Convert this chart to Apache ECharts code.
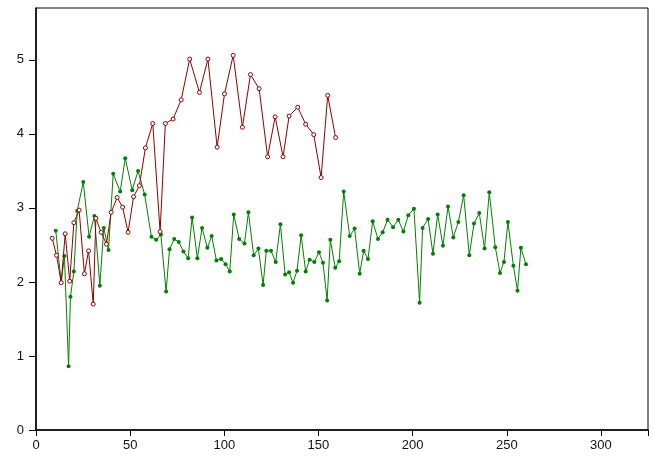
<!DOCTYPE html>
<html>
<head>
<meta charset="utf-8">
<script src="https://cdn.jsdelivr.net/npm/echarts@6/dist/echarts.min.js"></script>
<style>
  html, body { margin: 0; padding: 0; background: #fff; }
  #chart { width: 653px; height: 463px; }
</style>
</head>
<body>
<div id="chart"></div>
<script>
// red series (hollow markers)
const redX = [8.6, 10.9, 13.4, 15.5, 17.9, 20.1, 22.9, 25.7, 27.9, 30.4, 31.8, 34.6, 37.4, 39.9, 43.1, 46.0,
  48.9, 51.8, 54.9, 58.1, 62.0, 65.9, 68.7, 72.8, 77.1, 81.6, 86.8, 91.3, 96.2, 100.1, 104.7, 109.6,
  113.9, 118.5, 123.0, 127.0, 131.2, 134.4, 139.0, 143.2, 147.5, 151.4, 154.9, 159.1];
const redY = [2.59, 2.36, 1.99, 2.65, 2.01, 2.80, 2.97, 2.11, 2.42, 1.70, 2.86, 2.67, 2.51, 2.94, 3.14, 3.01,
  2.67, 3.15, 3.30, 3.81, 4.14, 2.68, 4.14, 4.20, 4.46, 5.01, 4.56, 5.01, 3.82, 4.54, 5.06, 4.09,
  4.80, 4.61, 3.69, 4.23, 3.69, 4.24, 4.36, 4.13, 3.99, 3.41, 4.52, 3.95];

// green series (filled markers)
const greenX = [10.5, 13.4, 15.1, 17.3, 18.3, 20.1, 21.9, 25.1, 28.2, 31.0, 33.9, 36.0, 38.5, 41.0, 44.7,
  47.4, 51.1, 54.2, 57.7, 61.3, 63.8, 66.3, 69.1, 70.9, 73.4, 75.8, 78.3, 80.8, 82.9, 85.7, 88.2,
  91.0, 93.3, 95.8, 98.3, 100.7, 102.9, 105.0, 107.9, 110.7, 112.8, 115.6, 118.1, 120.6, 122.3,
  124.8, 127.3, 129.8, 132.3, 134.4, 136.5, 138.6, 140.8, 143.2, 145.3, 147.8, 150.3, 152.4, 154.6,
  156.3, 158.9, 161.0, 163.4, 166.6, 169.2, 171.9, 174.0, 176.3, 178.8, 181.6, 184.1, 186.7, 189.6,
  192.4, 195.1, 197.7, 200.7, 203.7, 205.3, 208.2, 210.8, 213.3, 216.1, 218.8, 221.6, 224.3, 227.1,
  230.1, 232.6, 235.4, 238.2, 240.7, 243.9, 246.4, 248.5, 250.6, 253.5, 255.7, 257.5, 260.2];
const greenY = [2.69, 1.99, 2.35, 0.86, 1.80, 2.14, 2.96, 3.35, 2.61, 2.89, 1.95, 2.73, 2.43, 3.46, 3.22,
  3.67, 3.24, 3.50, 3.18, 2.61, 2.57, 2.64, 1.87, 2.44, 2.58, 2.54, 2.41, 2.32, 2.87, 2.32, 2.73,
  2.46, 2.62, 2.29, 2.31, 2.24, 2.14, 2.91, 2.58, 2.52, 2.94, 2.36, 2.45, 1.96, 2.42,
  2.42, 2.27, 2.78, 2.10, 2.13, 1.99, 2.15, 2.63, 2.14, 2.30, 2.27, 2.40, 2.26, 1.75,
  2.57, 2.19, 2.28, 3.22, 2.62, 2.72, 2.11, 2.42, 2.31, 2.82, 2.58, 2.67, 2.84, 2.74,
  2.84, 2.68, 2.90, 2.99, 1.72, 2.73, 2.85, 2.38, 2.91, 2.49, 3.02, 2.60, 2.81, 3.17,
  2.36, 2.79, 2.93, 2.45, 3.21, 2.47, 2.12, 2.27, 2.81, 2.22, 1.88, 2.46, 2.24];

const xTicks = [0, 50, 100, 150, 200, 250, 300];
const yTicks = [0, 1, 2, 3, 4, 5];

const pairs = (xs, ys) => xs.map((x, i) => [x, ys[i]]);

const chart = echarts.init(document.getElementById("chart"));

const labelStyle = {
  color: "#111",
  fontFamily: "Liberation Sans, Arial, sans-serif",
  fontSize: 13
};

const option = {
  animation: false,
  grid: {
    left: 36,
    right: 5,
    top: 8,
    bottom: 33,
    show: true,
    borderColor: "#000",
    borderWidth: 1
  },
  xAxis: {
    type: "value",
    min: 0,
    max: 325,
    interval: 50,
    axisLine: { show: true, onZero: false, lineStyle: { color: "#000", width: 1.5 } },
    axisTick: { show: true, length: 6, lineStyle: { color: "#000" } },
    axisLabel: Object.assign({ margin: 9, formatter: v => (xTicks.includes(v) ? v : "") }, labelStyle),
    splitLine: { show: false }
  },
  yAxis: {
    type: "value",
    min: 0,
    max: 5.7,
    interval: 1,
    axisLine: { show: true, onZero: false, lineStyle: { color: "#000", width: 1.5 } },
    axisTick: { show: true, length: 7, lineStyle: { color: "#000" } },
    axisLabel: Object.assign({ margin: 12, showMaxLabel: false, formatter: v => (yTicks.includes(v) ? v : "") }, labelStyle),
    splitLine: { show: false }
  },
  series: [
    {
      type: "line",
      data: pairs(greenX, greenY),
      symbol: "circle",
      symbolSize: 4,
      lineStyle: { color: "#008000", width: 1 },
      itemStyle: { color: "#008000", borderWidth: 0 },
      z: 2
    },
    {
      type: "line",
      data: pairs(redX, redY),
      symbol: "circle",
      symbolSize: 4,
      lineStyle: { color: "#8b0000", width: 1 },
      itemStyle: { color: "#fff", borderColor: "#8b0000", borderWidth: 1 },
      z: 3
    }
  ]
};

chart.setOption(option);
</script>
</body>
</html>
